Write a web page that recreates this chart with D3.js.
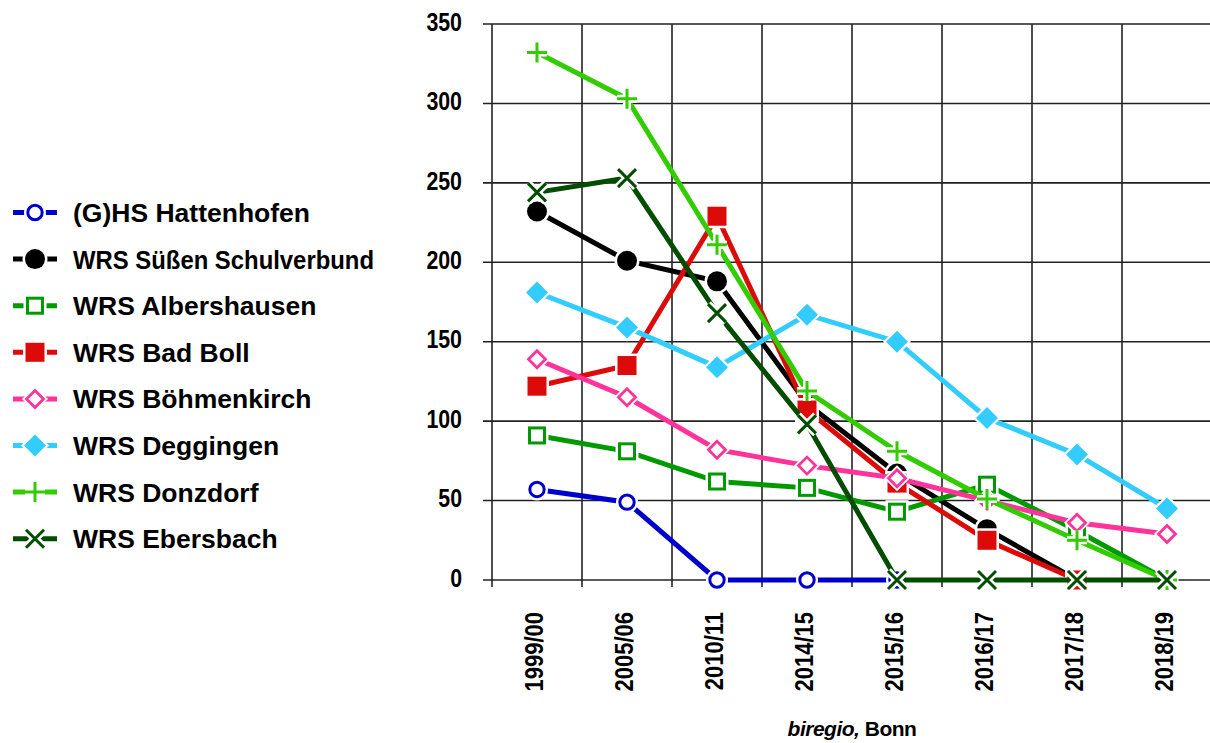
<!DOCTYPE html>
<html lang="de">
<head>
    <meta charset="UTF-8">
    <title>Schülerzahlen Werkrealschulen</title>
    <script src="https://d3js.org/d3.v7.min.js"></script>
    <style>
        body {
            margin: 0;
            background: #fff;
            font-family: "Liberation Sans", Arial, sans-serif;
        }
        text {
            font-weight: bold;
            fill: #000;
        }
    </style>
</head>
<body>
    <div id="chart"></div>

    <script>
        // school years on the x axis
        const years = ["1999/00", "2005/06", "2010/11", "2014/15", "2015/16", "2016/17", "2017/18", "2018/19"];

        // pupils per school
        const hattenhofen = [57, 49, 0, 0, 0, null, null, null];
        const suessen = [232, 201, 188, 111, 67, 32, 0, null];
        const albershausen = [91, 81, 62, 58, 43, 60, 31, 0];
        const badBoll = [122, 135, 229, 107, 61, 25, 0, null];
        const boehmenkirch = [139, 115, 82, 72, 64, 50, 36, 29];
        const deggingen = [181, 159, 134, 167, 150, 102, 79, 45];
        const donzdorf = [332, 303, 211, 119, 81, 51, 25, 0];
        const ebersbach = [244, 253, 168, 98, 0, 0, 0, 0];

        const yTicks = [0, 50, 100, 150, 200, 250, 300, 350];

        const series = [
            { name: "(G)HS Hattenhofen", values: hattenhofen, color: "#0000cc", marker: "circleOpen" },
            { name: "WRS Süßen Schulverbund", values: suessen, color: "#000000", marker: "circle", squeeze: 301 },
            { name: "WRS Albershausen", values: albershausen, color: "#009900", marker: "squareOpen" },
            { name: "WRS Bad Boll", values: badBoll, color: "#dd0a0a", marker: "square" },
            { name: "WRS Böhmenkirch", values: boehmenkirch, color: "#ff3399", marker: "diamondOpen" },
            { name: "WRS Deggingen", values: deggingen, color: "#33ccff", marker: "diamond" },
            { name: "WRS Donzdorf", values: donzdorf, color: "#33cc00", marker: "plus" },
            { name: "WRS Ebersbach", values: ebersbach, color: "#004d00", marker: "cross" }
        ];

        const width = 1210, height = 743;
        const plot = { left: 492, right: 1212, top: 24, bottom: 580 };

        const svg = d3.select("#chart").append("svg")
            .attr("width", width)
            .attr("height", height);

        const x = d3.scaleBand()
            .domain(years)
            .range([plot.left, plot.right]);

        const y = d3.scaleLinear()
            .domain([0, 350])
            .range([plot.bottom, plot.top]);

        // the reference squeezes its labels sideways a bit
        function squeeze(sel, k) {
            sel.each(function() {
                const w = this.getComputedTextLength();
                d3.select(this)
                    .attr("textLength", w * k)
                    .attr("lengthAdjust", "spacingAndGlyphs");
            });
        }

        // grid: horizontal lines + ticks on the left
        svg.append("g").selectAll("line")
            .data(yTicks)
            .enter().append("line")
            .attr("x1", plot.left - 9)
            .attr("x2", plot.right)
            .attr("y1", d => y(d))
            .attr("y2", d => y(d))
            .attr("stroke", "#222")
            .attr("stroke-width", 1.6);

        // vertical lines at the band edges, reaching a bit below the axis
        const edges = years.map(d => x(d));
        svg.append("g").selectAll("line")
            .data(edges)
            .enter().append("line")
            .attr("x1", d => d)
            .attr("x2", d => d)
            .attr("y1", plot.top)
            .attr("y2", plot.bottom + 7)
            .attr("stroke", "#222")
            .attr("stroke-width", 1.6);

        // y labels
        svg.append("g").selectAll("text")
            .data(yTicks)
            .enter().append("text")
            .attr("x", plot.left - 30)
            .attr("y", d => y(d))
            .attr("dy", "0.26em")
            .attr("text-anchor", "end")
            .style("font-size", "26px")
            .text(d => d)
            .call(squeeze, 0.82);

        // x labels, rotated
        svg.append("g").selectAll("text")
            .data(years)
            .enter().append("text")
            .attr("transform", d => `translate(${x(d) + x.bandwidth() / 2 + 6},612) rotate(-90)`)
            .attr("text-anchor", "end")
            .style("font-size", "25px")
            .text(d => d)
            .call(squeeze, 0.88);

        // footer
        const foot = svg.append("text")
            .attr("x", (plot.left + plot.right) / 2)
            .attr("y", 736)
            .attr("text-anchor", "middle")
            .style("font-size", "21px")
            .style("letter-spacing", "-0.5px");
        foot.append("tspan").style("font-style", "italic").text("biregio,");
        foot.append("tspan").text(" Bonn");

        // marker drawing: white halo first, then the marker itself
        function drawMarker(g, type, color) {
            if (type === "circleOpen") {
                g.append("circle").attr("r", 11).attr("fill", "#fff");
                g.append("circle").attr("r", 7.2).attr("fill", "#fff")
                    .attr("stroke", color).attr("stroke-width", 3);
            } else if (type === "circle") {
                g.append("circle").attr("r", 12.5).attr("fill", "#fff");
                g.append("circle").attr("r", 10).attr("fill", color);
            } else if (type === "squareOpen") {
                g.append("rect").attr("x", -11.5).attr("y", -11.5).attr("width", 23).attr("height", 23).attr("fill", "#fff");
                g.append("rect").attr("x", -7.5).attr("y", -7.5).attr("width", 15).attr("height", 15)
                    .attr("fill", "#fff").attr("stroke", color).attr("stroke-width", 3);
            } else if (type === "square") {
                g.append("rect").attr("x", -12).attr("y", -12).attr("width", 24).attr("height", 24).attr("fill", "#fff");
                g.append("rect").attr("x", -9.5).attr("y", -9.5).attr("width", 19).attr("height", 19).attr("fill", color);
            } else if (type === "diamondOpen") {
                g.append("path").attr("d", "M0,-13L13,0L0,13L-13,0Z").attr("fill", "#fff");
                g.append("path").attr("d", "M0,-8.5L8.5,0L0,8.5L-8.5,0Z")
                    .attr("fill", "#fff").attr("stroke", color).attr("stroke-width", 2.8);
            } else if (type === "diamond") {
                g.append("path").attr("d", "M0,-14L14,0L0,14L-14,0Z").attr("fill", "#fff");
                g.append("path").attr("d", "M0,-11L11,0L0,11L-11,0Z").attr("fill", color);
            } else if (type === "plus") {
                const p = "M-10,0L10,0M0,-10L0,10";
                g.append("path").attr("d", p).attr("stroke", "#fff").attr("stroke-width", 8);
                g.append("path").attr("d", p).attr("stroke", color).attr("stroke-width", 3);
            } else if (type === "cross") {
                const p = "M-9,-9L9,9M-9,9L9,-9";
                g.append("path").attr("d", p).attr("stroke", "#fff").attr("stroke-width", 8);
                g.append("path").attr("d", p).attr("stroke", color).attr("stroke-width", 3);
            }
        }

        const line = d3.line()
            .defined(d => d.v !== null)
            .x(d => x(d.year) + x.bandwidth() / 2)
            .y(d => y(d.v));

        series.forEach(s => {
            const pts = years.map((yr, i) => ({ year: yr, v: s.values[i] }));
            const g = svg.append("g");
            g.append("path")
                .datum(pts)
                .attr("d", line)
                .attr("fill", "none")
                .attr("stroke", s.color)
                .attr("stroke-width", 5);
            pts.filter(d => d.v !== null).forEach(d => {
                const m = g.append("g")
                    .attr("transform", `translate(${x(d.year) + x.bandwidth() / 2},${y(d.v)})`);
                drawMarker(m, s.marker, s.color);
            });
        });

        // legend
        const legend = svg.append("g");
        series.forEach((s, i) => {
            const cy = 212.5 + i * 46.6;
            const row = legend.append("g");
            row.append("line")
                .attr("x1", 13).attr("x2", 57)
                .attr("y1", cy).attr("y2", cy)
                .attr("stroke", s.color)
                .attr("stroke-width", 5);
            const m = row.append("g").attr("transform", `translate(35,${cy})`);
            drawMarker(m, s.marker, s.color);
            const t = row.append("text")
                .attr("x", 73)
                .attr("y", cy)
                .attr("dy", "0.36em")
                .style("font-size", "26.5px")
                .text(s.name);
            if (s.squeeze) {
                t.attr("textLength", s.squeeze).attr("lengthAdjust", "spacingAndGlyphs");
            }
        });
    </script>
</body>
</html>
